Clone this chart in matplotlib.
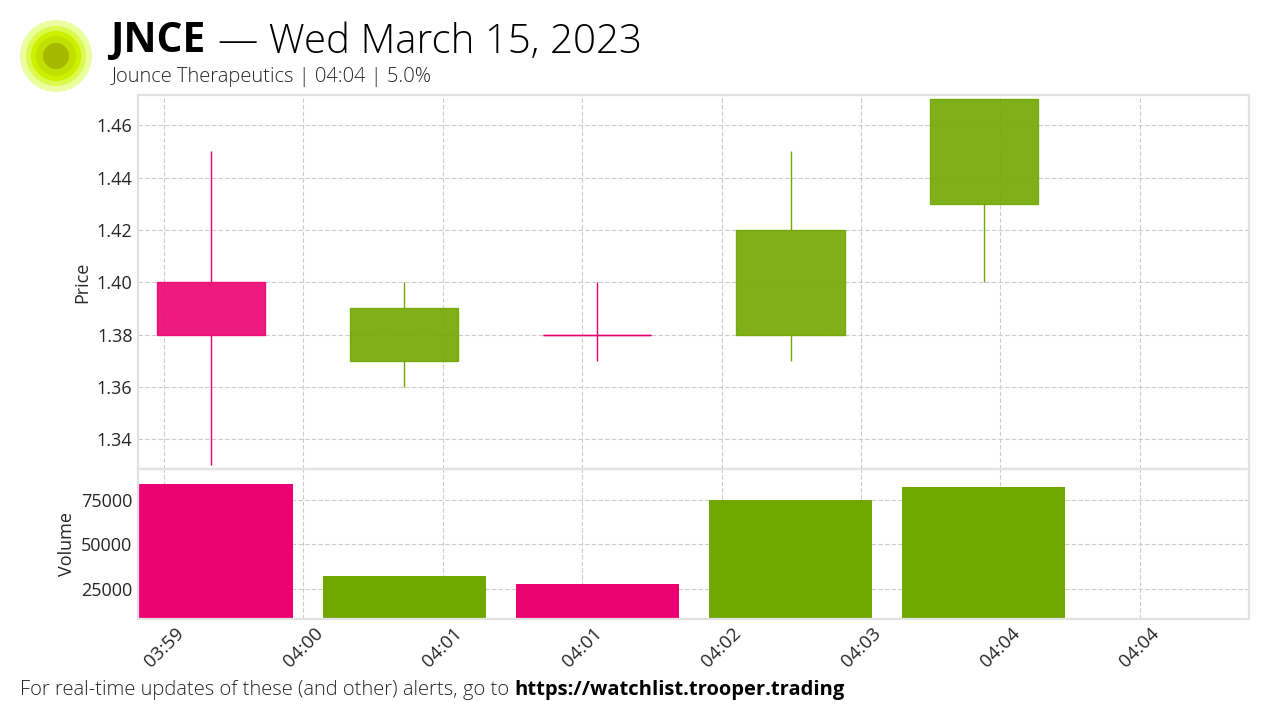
import matplotlib
matplotlib.use("Agg")
import matplotlib.pyplot as plt
from matplotlib.patches import Circle

# one candle per minute
candle_x = [0, 1, 2, 3, 4]
opens = [1.40, 1.37, 1.38, 1.38, 1.43]
closes = [1.38, 1.39, 1.38, 1.42, 1.47]
highs = [1.45, 1.40, 1.40, 1.45, 1.47]
lows = [1.33, 1.36, 1.37, 1.37, 1.40]
is_up = [False, True, False, True, True]
volumes = [83700, 32300, 27800, 74700, 81900]

tick_x = [-0.243, 0.478, 1.200, 1.921, 2.643, 3.364, 4.086, 4.807]
tick_labels = ["03:59", "04:00", "04:01", "04:01", "04:02", "04:03", "04:04", "04:04"]
price_ticks = [1.34, 1.36, 1.38, 1.40, 1.42, 1.44, 1.46]
volume_ticks = [25000, 50000, 75000]

UP = "#71a800"
DOWN = "#eb0270"
W, H = 1280, 720
plt.rcParams["font.family"] = ["Open Sans", "DejaVu Sans"]


def panel(top, bottom):
    # pixel box -> figure axes
    return fig.add_axes([138 / W, 1 - bottom / H, (1249 - 138) / W, (bottom - top) / H])


fig = plt.figure(figsize=(12.8, 7.2), dpi=100)
ax = panel(95, 469)
vax = panel(469, 619)

for a in (ax, vax):
    a.set_xlim(-0.378, 5.373)
    a.set_xticks(tick_x)
    a.grid(color="#cccccc", ls="--", lw=0.8, dashes=(4, 2))
    a.set_axisbelow(True)
    a.tick_params(length=0, labelsize=13, labelcolor="#262626", pad=4)
    for s in a.spines.values():
        s.set_color("#e2e2e2")
        s.set_linewidth(1.6)
        s.set_zorder(4)

for x, o, c, hi, lo, up in zip(candle_x, opens, closes, highs, lows, is_up):
    col = UP if up else DOWN
    # wicks stop at the body so they don't show through it
    ax.vlines(x, max(o, c), hi, color=col, lw=1, zorder=2)
    ax.vlines(x, lo, min(o, c), color=col, lw=1, zorder=2)
    ax.bar(x, abs(c - o), bottom=min(o, c), width=0.56, color=col, alpha=0.9,
           edgecolor=col, lw=1, zorder=3)
    if o == c:
        ax.hlines(o, x - 0.28, x + 0.28, color=col, lw=1, zorder=3)

ax.set_ylim(1.3286, 1.4716)
ax.set_yticks(price_ticks)
ax.set_yticklabels([f"{p:.2f}" for p in price_ticks])
ax.set_ylabel("Price", fontsize=13, color="#262626", labelpad=4)
ax.tick_params(labelbottom=False)

vax.bar(candle_x, volumes, width=0.844, color=[UP if u else DOWN for u in is_up], zorder=3)
vax.set_ylim(8240, 92040)
vax.set_yticks(volume_ticks)
vax.set_ylabel("Volume", fontsize=13, color="#262626", labelpad=4)
vax.set_xticklabels(tick_labels, rotation=45, ha="center", fontsize=13.5)

# logo: concentric rings
logo = fig.add_axes([14 / W, 1 - 98 / H, 84 / W, 84 / H])
logo.set_xlim(14, 98)
logo.set_ylim(98, 14)
logo.axis("off")
for r, col in [(36, "#ebfd9f"), (30, "#dcfa4e"), (25, "#cdf000"), (20, "#bfe000"), (13, "#a5b800")]:
    logo.add_patch(Circle((56, 56), r, color=col, lw=0))

fig.text(110 / W, 1 - 42 / H, "JNCE", fontsize=29.3, fontweight="bold", color="black", va="center")
fig.text(218 / W, 1 - 42 / H, "— Wed March 15, 2023", fontsize=29, fontweight="light",
         color="black", va="center")
fig.text(112 / W, 1 - 77 / H, "Jounce Therapeutics | 04:04 | 5.0%", fontsize=14.5,
         fontweight="light", color="#262626", va="center")
fig.text(20 / W, 1 - 690 / H, "For real-time updates of these (and other) alerts, go to",
         fontsize=14.5, fontweight="light", color="#262626", va="center")
fig.text(514 / W, 1 - 690 / H, "https://watchlist.trooper.trading", fontsize=14.5,
         fontweight="bold", color="black", va="center")

fig.savefig("out.png", dpi=100)
